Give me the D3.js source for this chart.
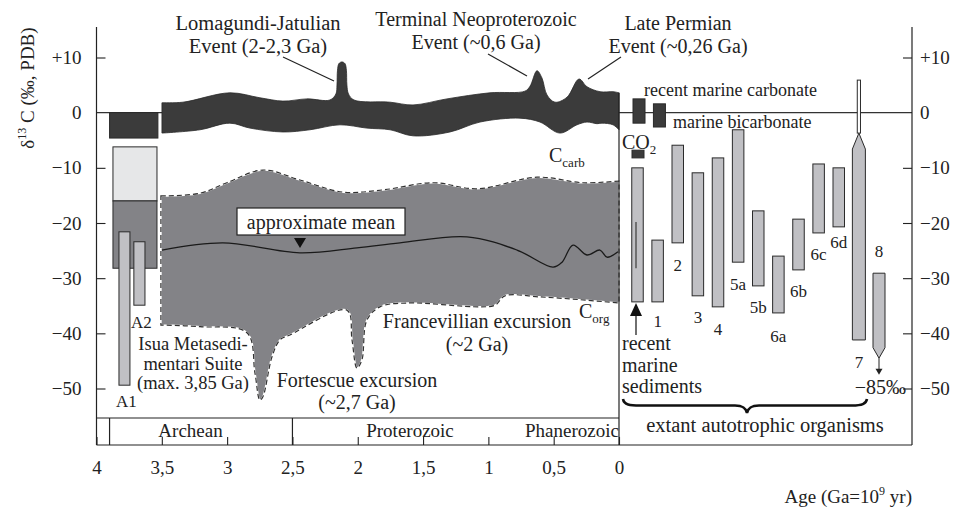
<!DOCTYPE html>
<html>
<head>
<meta charset="utf-8">
<title>d13C through Earth history</title>
<script src="https://cdn.jsdelivr.net/npm/d3@7"></script>
<style>
  body { margin: 0; background: #fff; }
  svg { display: block; font-family: 'Liberation Serif', 'Times New Roman', serif; }
  text { fill: #222; }
</style>
</head>
<body>
<script>
// ---- DATA: [age in Ga, d13C in permil] ----
var carbTop = [[3.499,1.8],[3.338,1.9],[2.979,3.6],[2.749,2.7],[2.573,2.1],[2.389,2.5],[2.213,2.3],
  [2.167,3.4],[2.159,5.0],[2.155,7.7],[2.144,8.9],[2.121,9.2],[2.098,8.9],[2.087,7.7],[2.083,5.0],[2.071,3.4],[2.029,2.3],
  [1.753,1.9],[1.577,1.4],[1.317,2.5],[0.988,3.6],[0.720,3.9],[0.681,4.8],[0.628,7.6],[0.590,6.3],
  [0.551,3.2],[0.490,1.9],[0.398,2.8],[0.306,6.1],[0.245,4.7],[0.145,3.8],[0.046,3.8],[0,3.6]];
var carbBottom = [[3.499,-3.7],[3.208,-3.1],[2.979,-1.9],[2.825,-2.8],[2.573,-3.5],[2.366,-3.1],
  [2.136,-2.2],[1.930,-2.8],[1.753,-3.1],[1.577,-4.2],[1.294,-3.5],[1.064,-1.7],[0.758,-1.0],
  [0.605,-1.7],[0.452,-3.7],[0.322,-2.2],[0.245,-1.7],[0.168,-2.0],[0.130,-1.9],[0.046,-2.2],[0,-3.1]];

var orgTop = [[3.507,-15.1],[3.208,-14.6],[3.002,-12.7],[2.726,-10.4],[2.443,-12.2],[2.113,-14.4],
  [1.807,-14.0],[1.424,-12.7],[1.087,-13.8],[0.628,-11.7],[0.276,-12.7],[0,-12.4]];
var orgBottom = [[3.507,-38.5],[3.208,-38.8],[2.848,-39.9],[2.787,-47.2],[2.749,-52.1],[2.726,-51.5],
  [2.657,-44.3],[2.596,-41.2],[2.519,-40.3],[2.083,-35.8],[2.044,-41.2],[2.006,-46.3],[1.968,-44.8],
  [1.930,-37.6],[1.830,-35.2],[1.623,-34.5],[1.064,-35.2],[0.949,-34.9],[0.873,-33.2],[0.605,-33.4],
  [0.299,-33.9],[0,-34.5]];
var orgMean = [[3.499,-24.9],[3.032,-23.6],[2.443,-25.4],[2.006,-24.5],[1.677,-23.6],[1.164,-22.5],
  [0.781,-24.9],[0.505,-28.0],[0.436,-27.1],[0.352,-24.0],[0.245,-25.8],[0.146,-24.9],[0.092,-26.2],[0.008,-25.2]];

// Archean boxes: [age from, age to, d13C top, d13C bottom]
var archCarb = [3.90, 3.53, 0, -4.6];
var archLight = [3.874, 3.537, -6.2, -16.0];
var archGray = [3.874, 3.537, -16.0, -28.2];
var isuaA1 = [3.828, 3.744, -21.6, -49.4];
var isuaA2 = [3.714, 3.629, -23.4, -34.9];

// extant autotrophic organisms
var extantNames = ['sed', '1', '2', '3', '4', '5a', '5b', '6a', '6b', '6c', '6d', '7', '8'];
var extantTop = [-10.0, -23.1, -5.9, -10.9, -8.2, -3.1, -17.8, -26.0, -19.3, -9.3, -10.0, -6.6, -29.1];
var extantBottom = [-34.3, -34.3, -23.6, -33.2, -35.2, -27.1, -31.4, -36.3, -28.5, -21.8, -20.7, -41.2, -42.6];
var extantLabelAt = [null, -38.9, -28.7, -38.2, -40.3, -32.1, -36.3, -41.6, -33.4, -26.7, -24.5, -46.2, -26.1];
var bar7Tube = [5.9, -3.7];
var bar8Point = -44.5, bar8Arrow = -47.5;
var sedInner = [-19.8, -28.2];
// recent marine carbonate, marine bicarbonate, CO2: [slot position, top, bottom]
var inorganic = [[0.075, 2.5, -1.9], [1.09, 1.6, -2.6], [0.025, -6.8, -8.2]];

var yTicks = [10, 0, -10, -20, -30, -40, -50];
var ageTicks = [4, 3.5, 3, 2.5, 2, 1.5, 1, 0.5, 0];
var eras = [['Archean', 3.9, 2.5, 3.28], ['Proterozoic', 2.5, 0.541, 1.6], ['Phanerozoic', 0.541, 0, 0.36]];

// ---- SCALES ----
var W = 961, H = 508;
var svg = d3.select('body').append('svg').attr('width', W).attr('height', H);

var x = d3.scaleLinear().domain([4, 0]).range([96.5, 619]);
var y = d3.scaleLinear().domain([-50, 10]).range([388.5, 57.5]);
var xe = d3.scalePoint().domain(extantNames).range([637.5, 879]);
var slot = d3.scaleLinear().domain([0, extantNames.length - 1]).range([637.5, 879]);

var axisTop = 27, frameBottom = 418, bandBottom = 445, rightX = 912;

var curve = d3.curveCatmullRom.alpha(0.5);
var line = d3.line().x(d => x(d[0])).y(d => y(d[1])).curve(curve);
function band(top, bottom) {
  return line(top) + line(bottom.slice().reverse()).replace(/^M/, 'L') + 'Z';
}
function box(b) {
  return { x: x(b[0]), y: y(b[2]), w: x(b[1]) - x(b[0]), h: y(b[3]) - y(b[2]) };
}
function rect(b, fill) {
  var r = box(b);
  svg.append('rect').attr('x', r.x).attr('y', r.y).attr('width', r.w).attr('height', r.h)
    .attr('fill', fill).attr('stroke', '#2a2a2a').attr('stroke-width', 1);
}

// zero line
svg.append('line').attr('x1', x(4)).attr('x2', rightX).attr('y1', y(0)).attr('y2', y(0))
  .attr('stroke', '#333').attr('stroke-width', 1.1);

// ---- C_org field ----
svg.append('path').attr('d', band(orgTop, orgBottom)).attr('fill', '#838387')
  .attr('stroke', '#fff').attr('stroke-width', 1.6);
svg.append('path').attr('d', band(orgTop, orgBottom)).attr('fill', 'none')
  .attr('stroke', '#333').attr('stroke-width', 1.2).attr('stroke-dasharray', '5,3');
svg.append('path').attr('d', line(orgMean)).attr('fill', 'none').attr('stroke', '#1a1a1a').attr('stroke-width', 1.3);

// ---- C_carb band ----
svg.append('path').attr('d', band(carbTop, carbBottom)).attr('fill', '#3b3b3b')
  .attr('stroke', '#2a2a2a').attr('stroke-width', 0.8);

// Archean boxes
rect(archCarb, '#3b3b3b');
rect(archLight, '#e6e7e8');
rect(archGray, '#838387');
rect(isuaA1, '#c0c0c4');
rect(isuaA2, '#c0c0c4');

// ---- extant organisms ----
var bw = 11.5;
extantNames.forEach(function (n, i) {
  var cx = xe(n);
  if (n === '7') {
    svg.append('rect').attr('x', cx - 1.6).attr('y', y(bar7Tube[0])).attr('width', 3.2)
      .attr('height', y(bar7Tube[1]) - y(bar7Tube[0])).attr('fill', '#fff').attr('stroke', '#2a2a2a');
    svg.append('path').attr('d', 'M' + cx + ',' + y(bar7Tube[1]) + 'L' + (cx + 6.5) + ',' + y(extantTop[i]) +
      'L' + (cx + 6.5) + ',' + y(extantBottom[i]) + 'L' + (cx - 6.5) + ',' + y(extantBottom[i]) +
      'L' + (cx - 6.5) + ',' + y(extantTop[i]) + 'Z').attr('fill', '#c0c0c4').attr('stroke', '#2a2a2a');
  } else if (n === '8') {
    svg.append('path').attr('d', 'M' + (cx - 6) + ',' + y(extantTop[i]) + 'L' + (cx + 6) + ',' + y(extantTop[i]) +
      'L' + (cx + 6) + ',' + y(extantBottom[i]) + 'L' + cx + ',' + y(bar8Point) +
      'L' + (cx - 6) + ',' + y(extantBottom[i]) + 'Z').attr('fill', '#c0c0c4').attr('stroke', '#2a2a2a');
    svg.append('line').attr('x1', cx).attr('x2', cx).attr('y1', y(bar8Point)).attr('y2', y(bar8Arrow) - 5)
      .attr('stroke', '#222');
    svg.append('path').attr('d', 'M' + (cx - 3.5) + ',' + (y(bar8Arrow) - 6) + 'L' + (cx + 3.5) + ',' + (y(bar8Arrow) - 6) +
      'L' + cx + ',' + y(bar8Arrow) + 'Z').attr('fill', '#222');
  } else {
    svg.append('rect').attr('x', cx - bw / 2).attr('y', y(extantTop[i])).attr('width', bw)
      .attr('height', y(extantBottom[i]) - y(extantTop[i])).attr('fill', '#c0c0c4').attr('stroke', '#2a2a2a');
  }
  if (extantLabelAt[i] !== null) {
    svg.append('text').attr('x', cx).attr('y', y(extantLabelAt[i])).attr('text-anchor', 'middle')
      .style('font-size', '17px').text(n);
  }
});
svg.append('line').attr('x1', xe('sed') - 1.5).attr('x2', xe('sed') - 1.5)
  .attr('y1', y(sedInner[0])).attr('y2', y(sedInner[1])).attr('stroke', '#444').attr('stroke-width', 1.3);
inorganic.forEach(function (d) {
  var cx = slot(d[0]);
  svg.append('rect').attr('x', cx - 6).attr('y', y(d[1])).attr('width', 12).attr('height', y(d[2]) - y(d[1]))
    .attr('fill', '#3b3b3b').attr('stroke', '#2a2a2a');
});

// ---- frame, axes ----
var g = svg.append('g').attr('stroke', '#222').attr('stroke-width', 1.2).attr('fill', 'none');
g.append('line').attr('x1', x(4)).attr('x2', x(4)).attr('y1', axisTop).attr('y2', bandBottom);
g.append('line').attr('x1', rightX).attr('x2', rightX).attr('y1', axisTop).attr('y2', bandBottom);
g.append('line').attr('x1', x(4)).attr('x2', rightX).attr('y1', bandBottom).attr('y2', bandBottom);
g.append('line').attr('x1', x(4)).attr('x2', x(0)).attr('y1', frameBottom).attr('y2', frameBottom);
g.append('line').attr('x1', x(0)).attr('x2', x(0)).attr('y1', y(carbTop[carbTop.length - 1][1])).attr('y2', bandBottom);
g.append('line').attr('x1', x(3.9)).attr('x2', x(3.9)).attr('y1', frameBottom).attr('y2', bandBottom);
g.append('line').attr('x1', x(2.5)).attr('x2', x(2.5)).attr('y1', frameBottom).attr('y2', bandBottom);

function fmtY(v) { return v > 0 ? '+' + v : v < 0 ? '\u2212' + Math.abs(v) : '0'; }
var yl = svg.append('g').attr('transform', 'translate(' + x(4) + ',0)')
  .call(d3.axisLeft(y).tickValues(yTicks).tickSize(-9).tickPadding(15).tickFormat(fmtY));
var yr = svg.append('g').attr('transform', 'translate(' + rightX + ',0)')
  .call(d3.axisRight(y).tickValues(yTicks).tickSize(-9).tickPadding(8).tickFormat(fmtY));
var xb = svg.append('g').attr('transform', 'translate(0,' + bandBottom + ')')
  .call(d3.axisBottom(x).tickValues(ageTicks).tickSize(-8).tickPadding(16)
    .tickFormat(d => String(d).replace('.', ',')));
[yl, yr, xb].forEach(function (a) {
  a.select('.domain').remove();
  a.selectAll('line').attr('stroke', '#222').attr('stroke-width', 1.1);
  a.selectAll('text').attr('font-family', 'Liberation Serif').style('font-size', '19px').attr('fill', '#222');
});
yl.selectAll('.tick').filter(d => d === 0).select('line').remove();
yr.selectAll('.tick').filter(d => d === 0).select('line').remove();

// era labels
eras.forEach(function (e) {
  svg.append('text').attr('x', x(e[3])).attr('y', 437).attr('text-anchor', 'middle')
    .style('font-size', '19px').text(e[0]);
});

// ---- annotations ----
function label(lines, cx, y0, size, lh, anchor) {
  var t = svg.append('text').attr('text-anchor', anchor || 'middle').style('font-size', size + 'px');
  lines.forEach(function (s, i) { t.append('tspan').attr('x', cx).attr('y', y0 + i * lh).text(s); });
  return t;
}
label(['Lomagundi-Jatulian', 'Event (2-2,3 Ga)'], 258, 30, 20.5, 22.5);
label(['Terminal Neoproterozoic', 'Event (~0,6 Ga)'], 476, 26, 20, 23);
label(['Late Permian', 'Event (~0,26 Ga)'], 678, 30, 20, 22.5);
var lead = [[283, 57, 334, 81], [488, 54, 527, 76], [621, 57, 588, 79]];
lead.forEach(function (l) {
  svg.append('line').attr('x1', l[0]).attr('y1', l[1]).attr('x2', l[2]).attr('y2', l[3])
    .attr('stroke', '#222').attr('stroke-width', 1.2);
});

label(['recent marine carbonate'], 644, 96, 18, 0, 'start');
label(['marine bicarbonate'], 673, 128, 18, 0, 'start');
var co2 = label(['CO'], 622, 149, 20, 0, 'start');
co2.append('tspan').attr('dy', 5).style('font-size', '13px').text('2');

var cc = label(['C'], 549, 162, 20, 0, 'start');
cc.append('tspan').attr('dy', 5).style('font-size', '13px').text('carb');
var co = label(['C'], 579, 318, 20, 0, 'start');
co.append('tspan').attr('dy', 5).style('font-size', '13px').text('org');

// approximate mean box
svg.append('rect').attr('x', 237).attr('y', 208).attr('width', 168).attr('height', 27)
  .attr('fill', '#fff').attr('stroke', '#222').attr('stroke-width', 1.2);
label(['approximate mean'], 321, 229, 20, 0);
svg.append('path').attr('d', 'M294,238L306,238L300,248Z').attr('fill', '#111');

label(['Francevillian excursion', '(~2 Ga)'], 477, 328, 20, 23);
label(['Fortescue excursion', '(~2,7 Ga)'], 357, 387, 20, 21.5);
label(['Isua Metasedi-', 'mentari Suite', '(max. 3,85 Ga)'], 193, 350, 18.5, 19.5);
label(['A2'], 131, 328, 17, 0, 'start');
label(['A1'], 116, 407, 17, 0, 'start');

label(['recent', 'marine', 'sediments'], 622, 350, 20, 21.5, 'start');
svg.append('line').attr('x1', 636).attr('x2', 636).attr('y1', 314).attr('y2', 335).attr('stroke', '#222').attr('stroke-width', 1.3);
svg.append('path').attr('d', 'M630,316L642,316L636,303Z').attr('fill', '#111');

label(['\u221285\u2030'], 906, 394, 20, 0, 'end');

// brace
svg.append('path')
  .attr('d', 'M623,399 C624,405 630,405.5 640,405.5 L735,405.5 C743,405.5 746,408 747,413 C748,408 751,405.5 759,405.5 L852,405.5 C862,405.5 866,404 867,399')
  .attr('fill', 'none').attr('stroke', '#111').attr('stroke-width', 2.6);
label(['extant autotrophic organisms'], 765, 432, 20.5, 0);

// axis titles
var yt = svg.append('text').attr('transform', 'translate(34,88) rotate(-90)').attr('text-anchor', 'middle')
  .style('font-size', '19px');
yt.append('tspan').text('\u03b4');
yt.append('tspan').attr('dy', -8).style('font-size', '12px').text('13');
yt.append('tspan').attr('dy', 8).text(' C (\u2030, PDB)');

var at = svg.append('text').attr('x', rightX).attr('y', 503).attr('text-anchor', 'end').style('font-size', '19px');
at.append('tspan').text('Age (Ga=10');
at.append('tspan').attr('dy', -8).style('font-size', '12px').text('9');
at.append('tspan').attr('dy', 8).text(' yr)');
</script>
</body>
</html>
